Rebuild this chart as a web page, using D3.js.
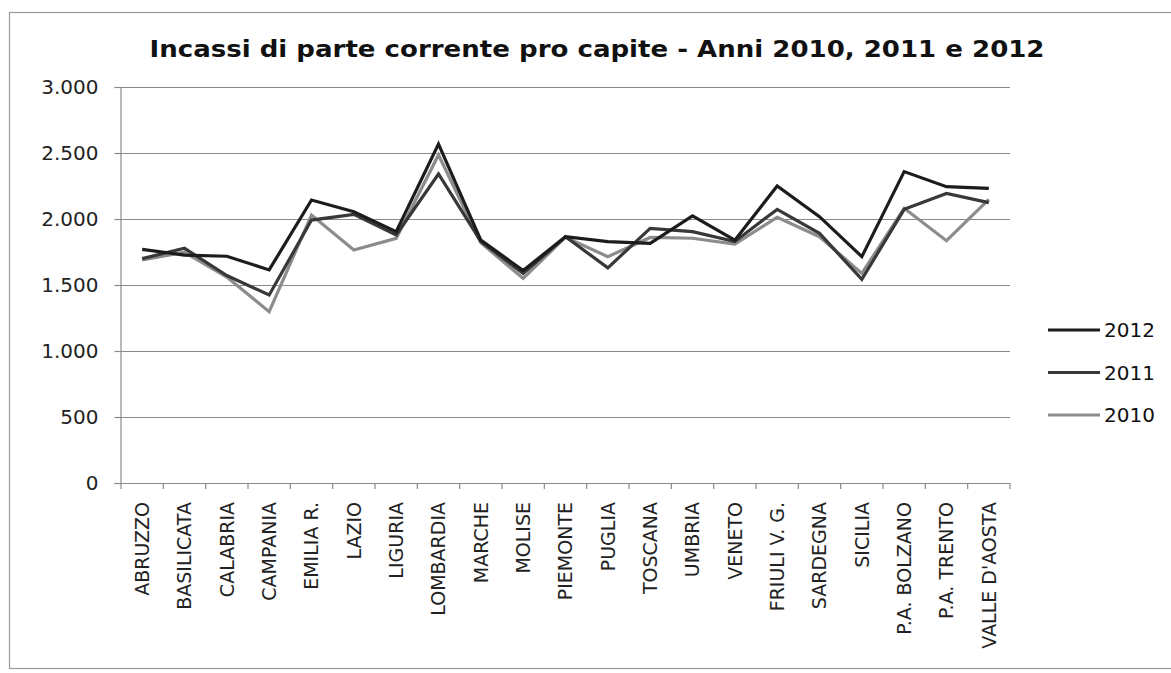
<!DOCTYPE html>
<html>
<head>
<meta charset="utf-8">
<script src="https://cdn.jsdelivr.net/npm/d3@7"></script>
<style>
  html, body { margin: 0; padding: 0; background: #fff; }
  svg { display: block; }
</style>
</head>
<body>
<svg id="chart" width="1171" height="673"></svg>
<script>
const categories = ["ABRUZZO","BASILICATA","CALABRIA","CAMPANIA","EMILIA R.","LAZIO","LIGURIA","LOMBARDIA","MARCHE","MOLISE","PIEMONTE","PUGLIA","TOSCANA","UMBRIA","VENETO","FRIULI V. G.","SARDEGNA","SICILIA","P.A. BOLZANO","P.A. TRENTO","VALLE D'AOSTA"];
const values2012 = [1770,1727,1718,1614,2144,2055,1904,2568,1840,1610,1866,1828,1816,2023,1840,2250,2018,1715,2359,2245,2232];
const values2011 = [1700,1778,1572,1424,1992,2035,1879,2341,1830,1588,1866,1630,1929,1904,1830,2073,1891,1543,2073,2194,2124];
const values2010 = [1690,1748,1560,1298,2030,1765,1854,2485,1820,1550,1862,1715,1860,1854,1810,2012,1866,1588,2081,1836,2149];
const yTicks = [0,500,1000,1500,2000,2500,3000];
const yTickLabels = ["0","500","1.000","1.500","2.000","2.500","3.000"];
const seriesNames = ["2012","2011","2010"];
const title = "Incassi di parte corrente pro capite - Anni 2010, 2011 e 2012";

const series = [
  {name: seriesNames[0], values: values2012, color: "#1c1c1c"},
  {name: seriesNames[1], values: values2011, color: "#383838"},
  {name: seriesNames[2], values: values2010, color: "#8c8c8c"}
];

const svg = d3.select("#chart");
const font = "'DejaVu Sans', Verdana, sans-serif";

// outer frame
svg.append("rect").attr("x", 9.5).attr("y", 12.5).attr("width", 1175).attr("height", 656)
  .attr("fill", "none").attr("stroke", "#9a9a9a").attr("stroke-width", 1.2);

const pLeft = 121, pRight = 1010, pTop = 87, pBottom = 483;
const x = d3.scaleBand().domain(categories).range([pLeft, pRight]);
const y = d3.scaleLinear().domain([0, 3000]).range([pBottom, pTop]);

// title
svg.append("text").attr("x", 597).attr("y", 57).attr("text-anchor", "middle")
  .attr("font-family", font).attr("font-weight", "bold").attr("font-size", 23)
  .attr("fill", "#111").attr("textLength", 895).attr("lengthAdjust", "spacingAndGlyphs")
  .text(title);

// gridlines
svg.append("g").selectAll("line").data(yTicks.filter(d => d > 0)).join("line")
  .attr("x1", pLeft - 6).attr("x2", pRight)
  .attr("y1", d => Math.round(y(d)) + 0.5).attr("y2", d => Math.round(y(d)) + 0.5)
  .attr("stroke", "#8a8a8a").attr("stroke-width", 1.2);

// y axis
const yAxis = d3.axisLeft(y).tickValues(yTicks).tickSize(6).tickPadding(16)
  .tickFormat((d, i) => yTickLabels[i]);
const gy = svg.append("g").attr("transform", `translate(${pLeft - 0.5},0)`).call(yAxis);
gy.select(".domain").attr("stroke", "#8a8a8a").attr("stroke-width", 1.2);
gy.selectAll(".tick line").attr("stroke", "#8a8a8a").attr("stroke-width", 1.2);
gy.selectAll(".tick text").attr("font-family", font).attr("font-size", 20).attr("fill", "#222");

// x axis
const boundaries = categories.map(c => x(c)).concat([pRight]);
const gx = svg.append("g");
gx.append("line").attr("x1", pLeft).attr("x2", pRight).attr("y1", pBottom + 0.5).attr("y2", pBottom + 0.5)
  .attr("stroke", "#8a8a8a").attr("stroke-width", 1.2);
gx.selectAll("line.tk").data(boundaries).join("line").attr("class", "tk")
  .attr("x1", d => d).attr("x2", d => d).attr("y1", pBottom).attr("y2", pBottom + 6)
  .attr("stroke", "#8a8a8a").attr("stroke-width", 1.2);
gx.selectAll("text").data(categories).join("text")
  .attr("transform", d => `translate(${x(d) + x.bandwidth() / 2},${pBottom + 19}) rotate(-90)`)
  .attr("text-anchor", "end").attr("dy", "0.36em")
  .attr("font-family", font).attr("font-size", 19).attr("fill", "#222")
  .text(d => d);

// lines (draw 2010 first so darker lines are on top)
const line = d3.line().x((d, i) => x(categories[i]) + x.bandwidth() / 2).y(d => y(d));
svg.append("g").selectAll("path").data(series.slice().reverse()).join("path")
  .attr("d", d => line(d.values)).attr("fill", "none")
  .attr("stroke", d => d.color).attr("stroke-width", 3.2)
  .attr("stroke-linejoin", "miter");

// legend
const lg = svg.append("g").selectAll("g").data(series).join("g")
  .attr("transform", (d, i) => `translate(1048,${330 + i * 42.5})`);
lg.append("line").attr("x1", 0).attr("x2", 52).attr("y1", 0).attr("y2", 0)
  .attr("stroke", d => d.color).attr("stroke-width", 3.2);
lg.append("text").attr("x", 56).attr("dy", "0.36em").attr("font-family", font)
  .attr("font-size", 20).attr("fill", "#111").text(d => d.name);
</script>
</body>
</html>
